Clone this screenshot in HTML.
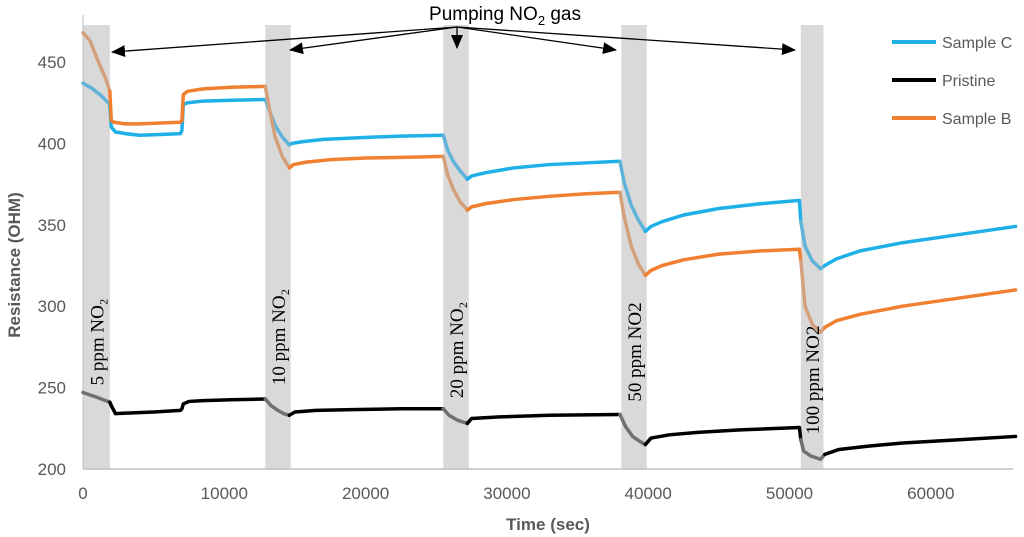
<!DOCTYPE html>
<html><head><meta charset="utf-8"><style>
body{margin:0;background:#fff;}
svg{display:block;font-family:"Liberation Sans",sans-serif;}
</style></head><body>
<svg id="chart" width="1024" height="537" viewBox="0 0 1024 537" xmlns="http://www.w3.org/2000/svg">
<g id="bands"></g><g id="axes"></g><g id="series"></g><g id="labels"></g>
<text x="0" y="0" transform="translate(20,265) rotate(-90)" text-anchor="middle" font-size="17" font-weight="bold" fill="#595959">Resistance (OHM)</text>
<text x="548" y="530" text-anchor="middle" font-size="17" font-weight="bold" fill="#595959">Time (sec)</text>
<text x="505" y="20" text-anchor="middle" font-size="19" fill="#000">Pumping NO<tspan font-size="13" dy="5">2</tspan><tspan dy="-5"> gas</tspan></text>
<g id="arrows"></g>
<g>
<line x1="892" y1="42" x2="936" y2="42" stroke="#1fb0e8" stroke-width="4"/>
<text x="942" y="48" font-size="16" fill="#595959">Sample C</text>
<line x1="892" y1="80" x2="936" y2="80" stroke="#000" stroke-width="4"/>
<text x="942" y="86" font-size="16" fill="#595959">Pristine</text>
<line x1="892" y1="118" x2="936" y2="118" stroke="#f08030" stroke-width="4"/>
<text x="942" y="124" font-size="16" fill="#595959">Sample B</text>
</g>
</svg>
<script>
const xTicks=[0,10000,20000,30000,40000,50000,60000];
const yTicks=[200,250,300,350,400,450];
const bandStarts=[0,12900,25500,38100,50800];
const bandEnds=[1900,14700,27300,39900,52400];
const bandLabels=["5 ppm NO₂","10 ppm NO₂","20 ppm NO₂","50 ppm NO2","100 ppm NO2"];
const sampleCT=[0,600,1200,1900,2000,2300,3000,4000,5500,6900,7000,7100,7400,8500,10500,12900,13200,13600,14100,14600,14800,15500,17000,19500,22500,25500,25800,26200,26700,27200,27500,28500,30500,33000,35500,38000,38300,38800,39300,39800,40200,41000,42500,45000,48000,50700,50800,51100,51600,52200,52500,53300,55000,58000,62000,66000];
const sampleCV=[437,434,430,424,410,407,406,405,405.5,406,408,424,425,426,426.5,427,420,411,404,399,400,401,402.5,403.5,404.5,405,396,389,383,378,380,382,385,387,388,389,376,362,353,346,349,352,356,360,363,365,352,337,328,323,325,329,334,339,344,349];
const sampleBT=[0,500,1000,1600,1900,2000,2200,3000,4000,5500,6900,7000,7100,7400,8500,10500,12900,13200,13600,14100,14600,14900,15800,17500,20000,23000,25500,25800,26200,26700,27200,27500,28500,30500,33000,35500,38000,38300,38800,39300,39800,40200,41000,42500,45000,48000,50700,50800,51100,51600,52200,52500,53300,55000,58000,62000,66000];
const sampleBV=[468,463,452,440,432,414,413,412,412,412.5,413,414,430,432,433.5,434.5,435,421,404,392,385,387,388.5,390,391,391.5,392,381,372,364,359,361,363,365.5,367.5,369,370,355,337,326,319,322,325,328.5,332,334,335,328,300,289,284,287,291,295,300,305,310];
const pristineT=[0,1000,1900,2000,2300,3500,5000,6900,7000,7100,7500,8500,10500,12900,13300,13800,14200,14600,15000,16500,19000,22500,25500,25900,26500,27200,27500,29500,33000,38000,38400,38900,39400,39800,40200,41500,43500,46500,50700,50800,51000,51500,52200,52500,53500,55500,58000,62000,66000];
const pristineV=[247,244,241,239,234,234.5,235,236,237,240,241.5,242,242.5,243,239,236,234,233,235,236,236.5,237,237,233,230,228,231,232,233,233.5,226,220,217,215,219,221,222.5,224,225.5,218,211,208,206,209,212,214,216,218,220];
const NS="http://www.w3.org/2000/svg";
const X0=83,PX=0.01413,Y0=469,PY=1.628;
const xs=t=>X0+t*PX, ys=v=>Y0-(v-200)*PY;
function mk(tag,attrs,parent){const e=document.createElementNS(NS,tag);for(const k in attrs)e.setAttribute(k,attrs[k]);parent.appendChild(e);return e;}
const bands=document.getElementById('bands'),axes=document.getElementById('axes'),series=document.getElementById('series'),labels=document.getElementById('labels'),arrows=document.getElementById('arrows');
const labelCY=[342,337,350,352,380];
bandStarts.forEach((s,i)=>{
 const r=mk('rect',{x:xs(s),y:25,width:xs(bandEnds[i])-xs(s),height:Y0-25,fill:'#d9d9d9'},bands);
 
 
 const cx=(xs(s)+xs(bandEnds[i]))/2+7;
 const t=mk('text',{x:0,y:0,transform:`translate(${cx},${labelCY[i]}) rotate(-90)`,'text-anchor':'middle','font-size':'19','font-family':'"Liberation Serif",serif',fill:'#000'},labels);
 t.textContent=bandLabels[i];
 
 
});
const ax=mk('line',{x1:X0,y1:Y0,x2:1013,y2:Y0,stroke:'#bfbfbf','stroke-width':1.5},axes);


const ay=mk('line',{x1:X0,y1:Y0,x2:X0,y2:15,stroke:'#bfbfbf','stroke-width':1},axes);


xTicks.forEach(v=>{const t=mk('text',{x:xs(v),y:499,'text-anchor':'middle','font-size':'17',fill:'#595959'},axes);t.textContent=v;
 
 });
yTicks.forEach(v=>{const t=mk('text',{x:66,y:ys(v)+6,'text-anchor':'end','font-size':'17',fill:'#595959'},axes);t.textContent=v;
 
 });
function inBand(t){return bandStarts.some((s,i)=>t>=s&&t<=bandEnds[i]);}
function draw(T,V,col,light,name){
 let cur=null,pts=[];
 const flush=()=>{if(pts.length>1){const p=mk('polyline',{points:pts.join(' '),fill:'none',stroke:cur,'stroke-width':3.5,'stroke-linejoin':'round','stroke-linecap':'round'},series);
  
  }};
 for(let i=0;i<T.length-1;i++){
  const c=inBand((T[i]+T[i+1])/2)?light:col;
  if(c!==cur){flush();cur=c;pts=[xs(T[i])+','+ys(V[i])];}
  pts.push(xs(T[i+1])+','+ys(V[i+1]));
 }
 flush();
}
draw(sampleCT,sampleCV,'#1fb0e8','#5fb3d9','sample-c-line');
draw(sampleBT,sampleBV,'#f08030','#d4a07c','sample-b-line');
draw(pristineT,pristineV,'#000','#707070','pristine-line');
const defs=mk('defs',{},document.getElementById('chart'));
const m=mk('marker',{id:'ah',markerWidth:14,markerHeight:12,refX:13,refY:6,orient:'auto',markerUnits:'userSpaceOnUse'},defs);
mk('path',{d:'M0,0 L14,6 L0,12 Z',fill:'#000'},m);
const tips=[[112,52],[290,50],[457,48],[616,50],[795,50]];
tips.forEach((p,i)=>{const l=mk('line',{x1:457,y1:27,x2:p[0],y2:p[1],stroke:'#000','stroke-width':1.3,'marker-end':'url(#ah)'},arrows);
 
 });
</script>
</body></html>
